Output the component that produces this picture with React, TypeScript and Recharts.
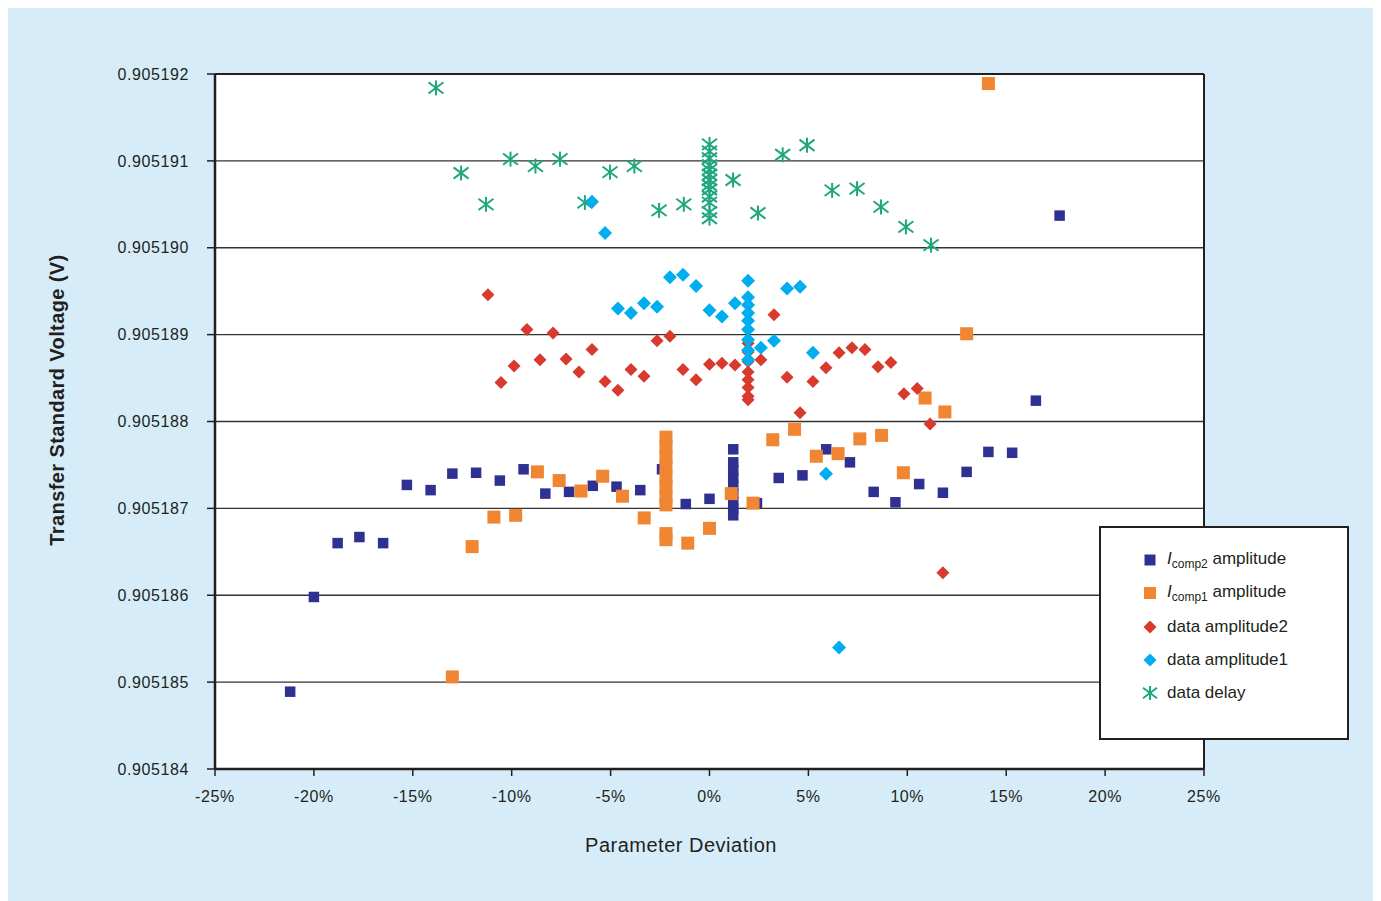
import { ScatterChart, Scatter, XAxis, YAxis, CartesianGrid, ReferenceLine, Legend, Label } from 'recharts';

// x = parameter deviation (%), y = transfer standard voltage (V)
const xTicks = [-25, -20, -15, -10, -5, 0, 5, 10, 15, 20, 25];
const yTicks = [0.905184, 0.905185, 0.905186, 0.905187, 0.905188, 0.905189, 0.90519, 0.905191, 0.905192];

const icomp2Amplitude: [number, number][] = [
  [-21.2, 0.90518489], [-20.0, 0.90518598], [-18.8, 0.9051866], [-17.7, 0.90518667],
  [-16.5, 0.9051866], [-15.3, 0.90518727], [-14.1, 0.90518721], [-13.0, 0.9051874],
  [-11.8, 0.90518741], [-10.6, 0.90518732], [-9.4, 0.90518745], [-8.3, 0.90518717],
  [-7.1, 0.90518719], [-5.9, 0.90518726], [-4.7, 0.90518725], [-3.5, 0.90518721],
  [-2.4, 0.90518745], [-1.2, 0.90518705], [0.0, 0.90518711],
  [1.2, 0.90518768], [1.2, 0.90518753], [1.2, 0.90518744], [1.2, 0.90518735], [1.2, 0.90518726],
  [1.2, 0.90518717], [1.2, 0.90518707], [1.2, 0.905187], [1.2, 0.90518692],
  [2.4, 0.90518706], [3.5, 0.90518735], [4.7, 0.90518738], [5.9, 0.90518768],
  [7.1, 0.90518753], [8.3, 0.90518719], [9.4, 0.90518707], [10.6, 0.90518728],
  [11.8, 0.90518718], [13.0, 0.90518742], [14.1, 0.90518765], [15.3, 0.90518764],
  [16.5, 0.90518824], [17.7, 0.90519037],
];

const icomp1Amplitude: [number, number][] = [
  [-13.0, 0.90518506], [-12.0, 0.90518656], [-10.9, 0.9051869], [-9.8, 0.90518692],
  [-8.7, 0.90518742], [-7.6, 0.90518732], [-6.5, 0.9051872], [-5.4, 0.90518737],
  [-4.4, 0.90518714], [-3.3, 0.90518689],
  [-2.2, 0.90518782], [-2.2, 0.90518771], [-2.2, 0.90518759], [-2.2, 0.90518748], [-2.2, 0.90518736],
  [-2.2, 0.90518725], [-2.2, 0.90518713], [-2.2, 0.90518704], [-2.2, 0.90518671], [-2.2, 0.90518664],
  [-1.1, 0.9051866], [0.0, 0.90518677], [1.1, 0.90518717], [2.2, 0.90518706],
  [3.2, 0.90518779], [4.3, 0.90518791], [5.4, 0.9051876], [6.5, 0.90518763],
  [7.6, 0.9051878], [8.7, 0.90518784], [9.8, 0.90518741], [10.9, 0.90518827],
  [11.9, 0.90518811], [13.0, 0.90518901], [14.1, 0.90519189],
];

const dataAmplitude2: [number, number][] = [
  [-11.2, 0.90518946], [-10.54, 0.90518845], [-9.88, 0.90518864], [-9.23, 0.90518906],
  [-8.57, 0.90518871], [-7.91, 0.90518902], [-7.25, 0.90518872], [-6.6, 0.90518857],
  [-5.94, 0.90518883], [-5.28, 0.90518846], [-4.63, 0.90518836], [-3.97, 0.9051886],
  [-3.31, 0.90518852], [-2.65, 0.90518893], [-2.0, 0.90518898], [-1.34, 0.9051886],
  [-0.68, 0.90518848], [0.0, 0.90518866], [0.63, 0.90518867], [1.29, 0.90518865],
  [1.95, 0.9051889], [1.95, 0.9051888], [1.95, 0.90518869], [1.95, 0.90518857],
  [1.95, 0.90518848], [1.95, 0.90518839], [1.95, 0.90518829], [1.95, 0.90518825],
  [2.6, 0.90518871], [3.26, 0.90518923], [3.92, 0.90518851], [4.58, 0.9051881],
  [5.23, 0.90518846], [5.89, 0.90518862], [6.55, 0.90518879], [7.2, 0.90518885],
  [7.86, 0.90518883], [8.52, 0.90518863], [9.17, 0.90518868], [9.83, 0.90518832],
  [10.5, 0.90518838], [11.15, 0.90518797], [11.8, 0.90518626],
];

const dataAmplitude1: [number, number][] = [
  [-5.94, 0.90519053], [-5.28, 0.90519017], [-4.63, 0.9051893], [-3.97, 0.90518925],
  [-3.31, 0.90518936], [-2.65, 0.90518932], [-2.0, 0.90518966], [-1.34, 0.90518969],
  [-0.68, 0.90518956], [0.0, 0.90518928], [0.63, 0.90518921], [1.29, 0.90518936],
  [1.95, 0.90518962], [1.95, 0.90518943], [1.95, 0.90518934], [1.95, 0.90518925],
  [1.95, 0.90518916], [1.95, 0.90518906], [1.95, 0.90518894], [1.95, 0.90518882], [1.95, 0.90518871],
  [2.6, 0.90518885], [3.26, 0.90518893], [3.92, 0.90518953], [4.58, 0.90518955],
  [5.23, 0.90518879], [5.89, 0.9051874], [6.55, 0.9051854],
];

const dataDelay: [number, number][] = [
  [-13.83, 0.90519184], [-12.56, 0.90519086], [-11.3, 0.9051905], [-10.06, 0.90519102],
  [-8.8, 0.90519094], [-7.56, 0.90519102], [-6.3, 0.90519052], [-5.03, 0.90519087],
  [-3.8, 0.90519094], [-2.55, 0.90519043], [-1.3, 0.9051905],
  [0, 0.90519119], [0, 0.90519111], [0, 0.90519103], [0, 0.90519095], [0, 0.9051909],
  [0, 0.90519084], [0, 0.90519078], [0, 0.90519072], [0, 0.90519067], [0, 0.90519059],
  [0, 0.90519052], [0, 0.90519041], [0, 0.90519034],
  [1.19, 0.90519078], [2.45, 0.9051904], [3.7, 0.90519107], [4.93, 0.90519118],
  [6.2, 0.90519066], [7.46, 0.90519068], [8.67, 0.90519047], [9.93, 0.90519024], [11.2, 0.90519003],
];

const toPoints = (pts: [number, number][]) => pts.map(([x, y]) => ({ x, y }));

const INK = '#231F20';
const BLUE = '#2E3192';
const ORANGE = '#F08532';
const RED = '#D83A2E';
const CYAN = '#00AEEF';
const GREEN = '#1FA77E';

const square = (size: number, color: string) => (props: any) => {
  const { cx, cy } = props;
  if (cx == null || cy == null) return <g />;
  return <rect x={cx - size / 2} y={cy - size / 2} width={size} height={size} fill={color} />;
};

const diamond = (size: number, color: string) => (props: any) => {
  const { cx, cy } = props;
  if (cx == null || cy == null) return <g />;
  const h = size / 2;
  return <polygon points={`${cx},${cy - h} ${cx + h},${cy} ${cx},${cy + h} ${cx - h},${cy}`} fill={color} />;
};

// excel's "X with a vertical bar" marker
const asterisk = (size: number, color: string) => (props: any) => {
  const { cx, cy } = props;
  if (cx == null || cy == null) return <g />;
  const h = size / 2;
  return (
    <g stroke={color} strokeWidth={2} fill="none">
      <line x1={cx} y1={cy - h} x2={cx} y2={cy + h} />
      <line x1={cx - h} y1={cy - h * 0.75} x2={cx + h} y2={cy + h * 0.75} />
      <line x1={cx - h} y1={cy + h * 0.75} x2={cx + h} y2={cy - h * 0.75} />
    </g>
  );
};

const legendItems = [
  { key: 'icomp2', sub: 'comp2', text: ' amplitude', marker: square(11, BLUE) },
  { key: 'icomp1', sub: 'comp1', text: ' amplitude', marker: square(12, ORANGE) },
  { key: 'amp2', sub: '', text: 'data amplitude2', marker: diamond(13, RED) },
  { key: 'amp1', sub: '', text: 'data amplitude1', marker: diamond(13, CYAN) },
  { key: 'delay', sub: '', text: 'data delay', marker: asterisk(14, GREEN) },
];

const LegendBox = () => (
  <div
    style={{
      position: 'relative',
      width: 250,
      height: 214,
      boxSizing: 'border-box',
      background: '#fff',
      border: `2px solid ${INK}`,
      color: INK,
      fontSize: 17,
    }}
  >
    {legendItems.map((item, i) => (
      <div
        key={item.key}
        style={{ position: 'absolute', left: 0, top: 32 + i * 33.3 - 12, height: 24, display: 'flex', alignItems: 'center' }}
      >
        <svg width={20} height={20} style={{ position: 'absolute', left: 39 }}>
          {item.marker({ cx: 10, cy: 10 })}
        </svg>
        <span style={{ position: 'absolute', left: 66, whiteSpace: 'nowrap' }}>
          {item.sub ? (
            <>
              <i>I</i>
              <sub style={{ fontSize: 12 }}>{item.sub}</sub>
              {item.text}
            </>
          ) : (
            item.text
          )}
        </span>
      </div>
    ))}
  </div>
);

export default function App() {
  return (
    <div
      style={{
        width: 1366,
        height: 893,
        background: '#D6EDF9',
        fontFamily: "'Liberation Sans', Arial, Helvetica, sans-serif",
      }}
    >
      <ScatterChart width={1366} height={893} margin={{ top: 66, right: 170, bottom: 32, left: 0 }}>
        <CartesianGrid vertical={false} stroke="#333" strokeWidth={1.4} fill="#fff" fillOpacity={1} />
        <XAxis
          type="number"
          dataKey="x"
          domain={[-25, 25]}
          ticks={xTicks}
          interval={0}
          height={100}
          tickFormatter={(v: number) => `${v}%`}
          tickSize={7}
          tickMargin={15}
          axisLine={{ stroke: INK, strokeWidth: 2.5 }}
          tickLine={{ stroke: INK, strokeWidth: 1.5 }}
          tick={{ fill: INK, fontSize: 16, letterSpacing: 0.6 }}
        >
          <Label
            content={() => (
              <text x={673} y={844} textAnchor="middle" fill={INK} fontSize={20} letterSpacing={0.5}>
                Parameter Deviation
              </text>
            )}
          />
        </XAxis>
        <YAxis
          type="number"
          dataKey="y"
          domain={[0.905184, 0.905192]}
          ticks={yTicks}
          interval={0}
          width={207}
          tickFormatter={(v: number) => v.toFixed(6)}
          tickSize={8}
          tickMargin={18}
          axisLine={{ stroke: INK, strokeWidth: 2.5 }}
          tickLine={{ stroke: INK, strokeWidth: 1.5 }}
          tick={{ fill: INK, fontSize: 16, letterSpacing: 0.6 }}
        >
          <Label
            content={() => (
              <text
                x={49}
                y={392}
                transform="rotate(-90 49 392)"
                textAnchor="middle"
                dominantBaseline="central"
                fill={INK}
                fontSize={20}
                fontWeight="bold"
                letterSpacing={0.4}
              >
                Transfer Standard Voltage (V)
              </text>
            )}
          />
        </YAxis>
        <ReferenceLine y={0.905192} stroke={INK} strokeWidth={2} />
        <ReferenceLine x={25} stroke={INK} strokeWidth={2} />
        <Scatter name="data delay" data={toPoints(dataDelay)} shape={asterisk(15, GREEN)} isAnimationActive={false} />
        <Scatter name="Icomp2 amplitude" data={toPoints(icomp2Amplitude)} shape={square(10.5, BLUE)} isAnimationActive={false} />
        <Scatter name="Icomp1 amplitude" data={toPoints(icomp1Amplitude)} shape={square(13, ORANGE)} isAnimationActive={false} />
        <Scatter name="data amplitude2" data={toPoints(dataAmplitude2)} shape={diamond(13, RED)} isAnimationActive={false} />
        <Scatter name="data amplitude1" data={toPoints(dataAmplitude1)} shape={diamond(14, CYAN)} isAnimationActive={false} />
        <Legend
          layout="vertical"
          align="center"
          verticalAlign="middle"
          wrapperStyle={{ left: 1091, top: 518, width: 250, height: 214 }}
          content={() => <LegendBox />}
        />
      </ScatterChart>
    </div>
  );
}
